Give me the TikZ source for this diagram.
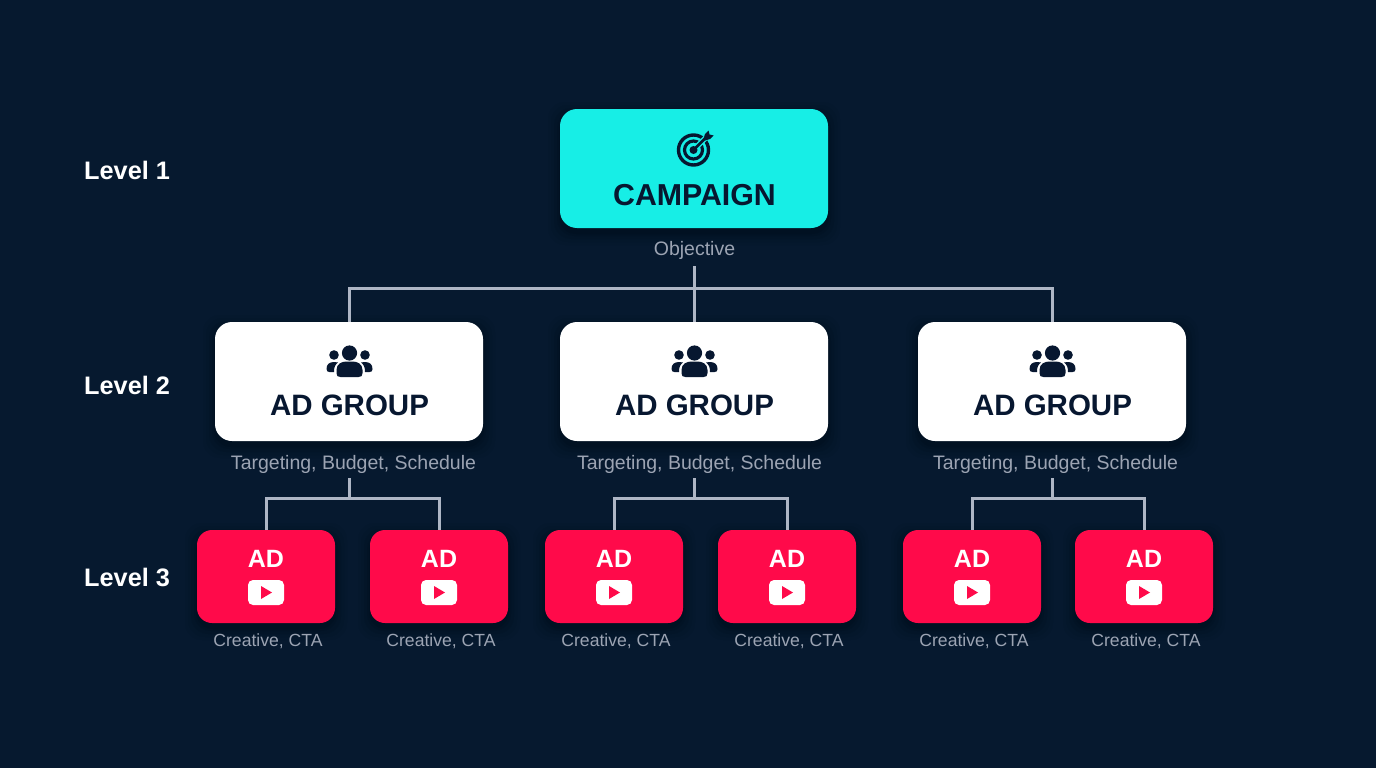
\documentclass[tikz,border=0pt]{standalone}
\usepackage{fontspec}
\setmainfont{Liberation Sans}
\usetikzlibrary{calc}
\definecolor{bgc}{HTML}{06192F}
\definecolor{ink}{HTML}{071730}
\definecolor{cyanc}{HTML}{17EEE6}
\definecolor{redc}{HTML}{FF0A4A}
\definecolor{linec}{HTML}{AEB6C5}
\definecolor{subc}{HTML}{9CA4B3}
\newcommand{\softshadow}[4]{%
  \foreach \g/\o in {12/.03,9/.04,6/.05,3/.06,1/.07}{%
    \fill[black,opacity=\o,rounded corners=17pt]
      ($(#1,#2)+(-#3/2-\g,-#4/2-\g+5)$) rectangle ($(#1,#2)+(#3/2+\g,#4/2+\g+5)$);}}
\tikzset{
  x=1pt,y=-1pt,
  bigbox/.style={rounded corners=17pt,inner sep=0pt,outer sep=0pt,minimum width=268pt,minimum height=119pt},
  campbox/.style={bigbox,fill=cyanc},
  groupbox/.style={bigbox,fill=white},
  adbox/.style={rounded corners=15pt,inner sep=0pt,outer sep=0pt,minimum width=138pt,minimum height=93pt,fill=redc},
  bigtitle/.style={text=ink,font=\bfseries\fontsize{29.5}{32}\selectfont,inner sep=0pt},
  camptitle/.style={bigtitle,font=\bfseries\fontsize{30.3}{32}\selectfont},
  adtitle/.style={text=white,font=\bfseries\fontsize{25}{28}\selectfont,inner sep=0pt},
  lvl/.style={text=white,font=\bfseries\fontsize{25.3}{28}\selectfont,inner sep=0pt,anchor=west},
  sublabel/.style={text=subc,font=\fontsize{19.5}{22}\selectfont,inner sep=0pt},
  smalllabel/.style={text=subc,font=\fontsize{17.6}{20}\selectfont,inner sep=0pt},
  conn/.style={draw=linec,line width=3pt,line cap=rect,shorten >=1.5pt},
  connboth/.style={conn,shorten <=1.5pt},
  people/.pic={
    \fill[ink] (0,-8) circle (7.6);
    \fill[ink] (-15.5,-6) circle (4.8);
    \fill[ink] (15.5,-6) circle (4.8);
    \fill[ink] (-13,12) -- (-13,9) .. controls (-13,3) and (-8,0.5) .. (-3,0.5) -- (3,0.5) .. controls (8,0.5) and (13,3) .. (13,9) -- (13,12) .. controls (13,15) and (12,16) .. (9,16) -- (-9,16) .. controls (-12,16) and (-13,15) .. (-13,12) -- cycle;
    \fill[ink] (-23,8) .. controls (-23,3) and (-20,1) .. (-15,1) -- (-11.5,1.5) .. controls (-14.5,4) and (-15.5,6) .. (-15.5,11) -- (-20,11) .. controls (-22,11) and (-23,10) .. (-23,8) -- cycle;
    \fill[ink] (23,8) .. controls (23,3) and (20,1) .. (15,1) -- (11.5,1.5) .. controls (14.5,4) and (15.5,6) .. (15.5,11) -- (20,11) .. controls (22,11) and (23,10) .. (23,8) -- cycle;
  },
  playicon/.pic={
    \fill[white,rounded corners=5pt] (-18,-12.5) rectangle (18,12.5);
    \fill[redc] (-5,-6.5) -- (6,0) -- (-5,6.5) -- cycle;
  },
  targeticon/.pic={
    \draw[ink,line width=3.4pt] (0,0) circle (15);
    \draw[ink,line width=3.2pt] (0,0) circle (9);
    \fill[ink] (0,0) circle (4);
    \draw[cyanc,line width=5.5pt] (4,-4) -- (14,-14);
    \draw[ink,line width=2.8pt] (0,0) -- (13,-13);
    \fill[ink] (10,-11) -- (11.5,-16) -- (15,-19.5) -- (16,-15.5) -- (20,-14.5) -- (16.5,-11) -- (11.5,-9.5) -- cycle;
  },
}
\begin{document}
\begin{tikzpicture}
\useasboundingbox (0,0) rectangle (1376,768);
\fill[bgc] (0,0) rectangle (1376,768);

% soft shadows
\softshadow{694}{168.5}{268}{119}
\softshadow{349}{381.5}{268}{119}
\softshadow{694}{381.5}{268}{119}
\softshadow{1052}{381.5}{268}{119}
\foreach \c in {266,439,614,787,972,1144}{\softshadow{\c}{576.5}{138}{93}}

% junctions
\coordinate (top) at (694,267.5);
\coordinate (bus) at (694,288);
\coordinate (s1) at (349,479.5);
\coordinate (s2) at (694,479.5);
\coordinate (s3) at (1052,479.5);
\coordinate (b1) at (349,498);
\coordinate (b2) at (694,498);
\coordinate (b3) at (1052,498);

% boxes
\node[campbox] (camp) at (694,168.5) {};
\node[groupbox] (g1) at (349,381.5) {};
\node[groupbox] (g2) at (694,381.5) {};
\node[groupbox] (g3) at (1052,381.5) {};
\node[adbox] (a1) at (266,576.5) {};
\node[adbox] (a2) at (439,576.5) {};
\node[adbox] (a3) at (614,576.5) {};
\node[adbox] (a4) at (787,576.5) {};
\node[adbox] (a5) at (972,576.5) {};
\node[adbox] (a6) at (1144,576.5) {};

% connectors
\draw[conn] (top) -- (g2.north);
\draw[connboth] (g1.north) -- (g1.north |- bus) -- (g3.north |- bus) -- (g3.north);
\draw[conn] (s1) -- (b1);
\draw[connboth] (a1.north) -- (a1.north |- b1) -- (a2.north |- b1) -- (a2.north);
\draw[conn] (s2) -- (b2);
\draw[connboth] (a3.north) -- (a3.north |- b2) -- (a4.north |- b2) -- (a4.north);
\draw[conn] (s3) -- (b3);
\draw[connboth] (a5.north) -- (a5.north |- b3) -- (a6.north |- b3) -- (a6.north);

% titles
\node[camptitle] (tc) at (694.5,195) {CAMPAIGN};
\node[bigtitle] (t1) at (349.5,405.5) {AD GROUP};
\node[bigtitle] (t2) at (694.5,405.5) {AD GROUP};
\node[bigtitle] (t3) at (1052.5,405.5) {AD GROUP};
\foreach \n/\c in {1/266,2/439,3/614,4/787,5/972,6/1144}{
  \node[adtitle] (at\n) at (\c,558.5) {AD};
  \pic at (\c,592.5) {playicon};
  \path (\c,641.5) +(2,0) node[smalllabel] (cl\n) {Creative, CTA};
}

% icons
\pic at (693.5,150) {targeticon};
\pic at (349.5,361) {people};
\pic at (694.5,361) {people};
\pic at (1052.5,361) {people};

% sub labels
\node[sublabel] (ob) at (694.5,250) {Objective};
\node[sublabel] (l1) at (353.5,464) {Targeting, Budget, Schedule};
\node[sublabel] (l2) at (699.5,464) {Targeting, Budget, Schedule};
\node[sublabel] (l3) at (1055.5,464) {Targeting, Budget, Schedule};

% levels
\node[lvl] (lv1) at (84,170.5) {Level 1};
\node[lvl] (lv2) at (84,385.5) {Level 2};
\node[lvl] (lv3) at (84,577.5) {Level 3};
\end{tikzpicture}
\end{document}
